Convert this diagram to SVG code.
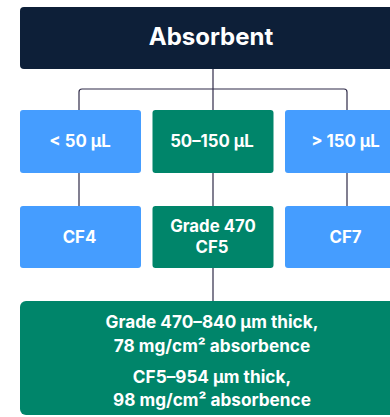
<svg xmlns="http://www.w3.org/2000/svg" width="390" height="417" viewBox="0 0 390 417">
<style>
text{font-family:Inter,"Liberation Sans",sans-serif;font-weight:700;fill:#fff;text-anchor:middle}
.t{font-size:24px}
.m{font-size:16.8px}
.b{font-size:17.2px}
.blue{fill:#459dff}
.green{fill:#00856a}
.navy{fill:#0d1f38}
.c{fill:none;stroke:#2f2b48;stroke-width:1.2}
</style>
<rect width="390" height="417" fill="#fff"/>
<g id="connectors">
<path class="c" d="M213 69V110"/>
<path class="c" d="M79 110V92Q79 89 82 89H344Q347 89 347 92V110"/>
<path class="c" d="M79 173V206M213 173V206M347 173V206M213 268V301"/>
</g>
<g id="absorbent"><rect class="navy" x="20" y="7" width="386" height="62" rx="4"/><text class="t" x="211" y="45.3">Absorbent</text></g>
<g id="lt50"><rect class="blue" x="20" y="110" width="121" height="63" rx="3"/><text class="m" x="80" y="147.3">&lt; 50 μL</text></g>
<g id="mid"><rect class="green" x="152.5" y="110" width="121" height="63" rx="3"/><text class="m" x="212" y="147.3">50–150 μL</text></g>
<g id="gt150"><rect class="blue" x="285" y="110" width="121" height="63" rx="3"/><text class="m" x="345.5" y="147.3">&gt; 150 μL</text></g>
<g id="cf4"><rect class="blue" x="20" y="206" width="121" height="62" rx="3"/><text class="m" x="79.5" y="242.7">CF4</text></g>
<g id="cf5"><rect class="green" x="152.5" y="206" width="121" height="62" rx="3"/><text class="m" x="213" y="231.7">Grade 470</text><text class="m" x="212" y="252.7">CF5</text></g>
<g id="cf7"><rect class="blue" x="285" y="206" width="121" height="62" rx="3"/><text class="m" x="345.5" y="242.7">CF7</text></g>
<g id="detail"><rect class="green" x="20" y="301" width="386" height="114" rx="6"/>
<text class="b" x="212" y="328.3">Grade 470–840 μm thick,</text>
<text class="b" x="212" y="352.3">78 mg/cm² absorbence</text>
<text class="b" x="212" y="382.7">CF5–954 μm thick,</text>
<text class="b" x="212" y="405.7">98 mg/cm² absorbence</text></g>
</svg>
